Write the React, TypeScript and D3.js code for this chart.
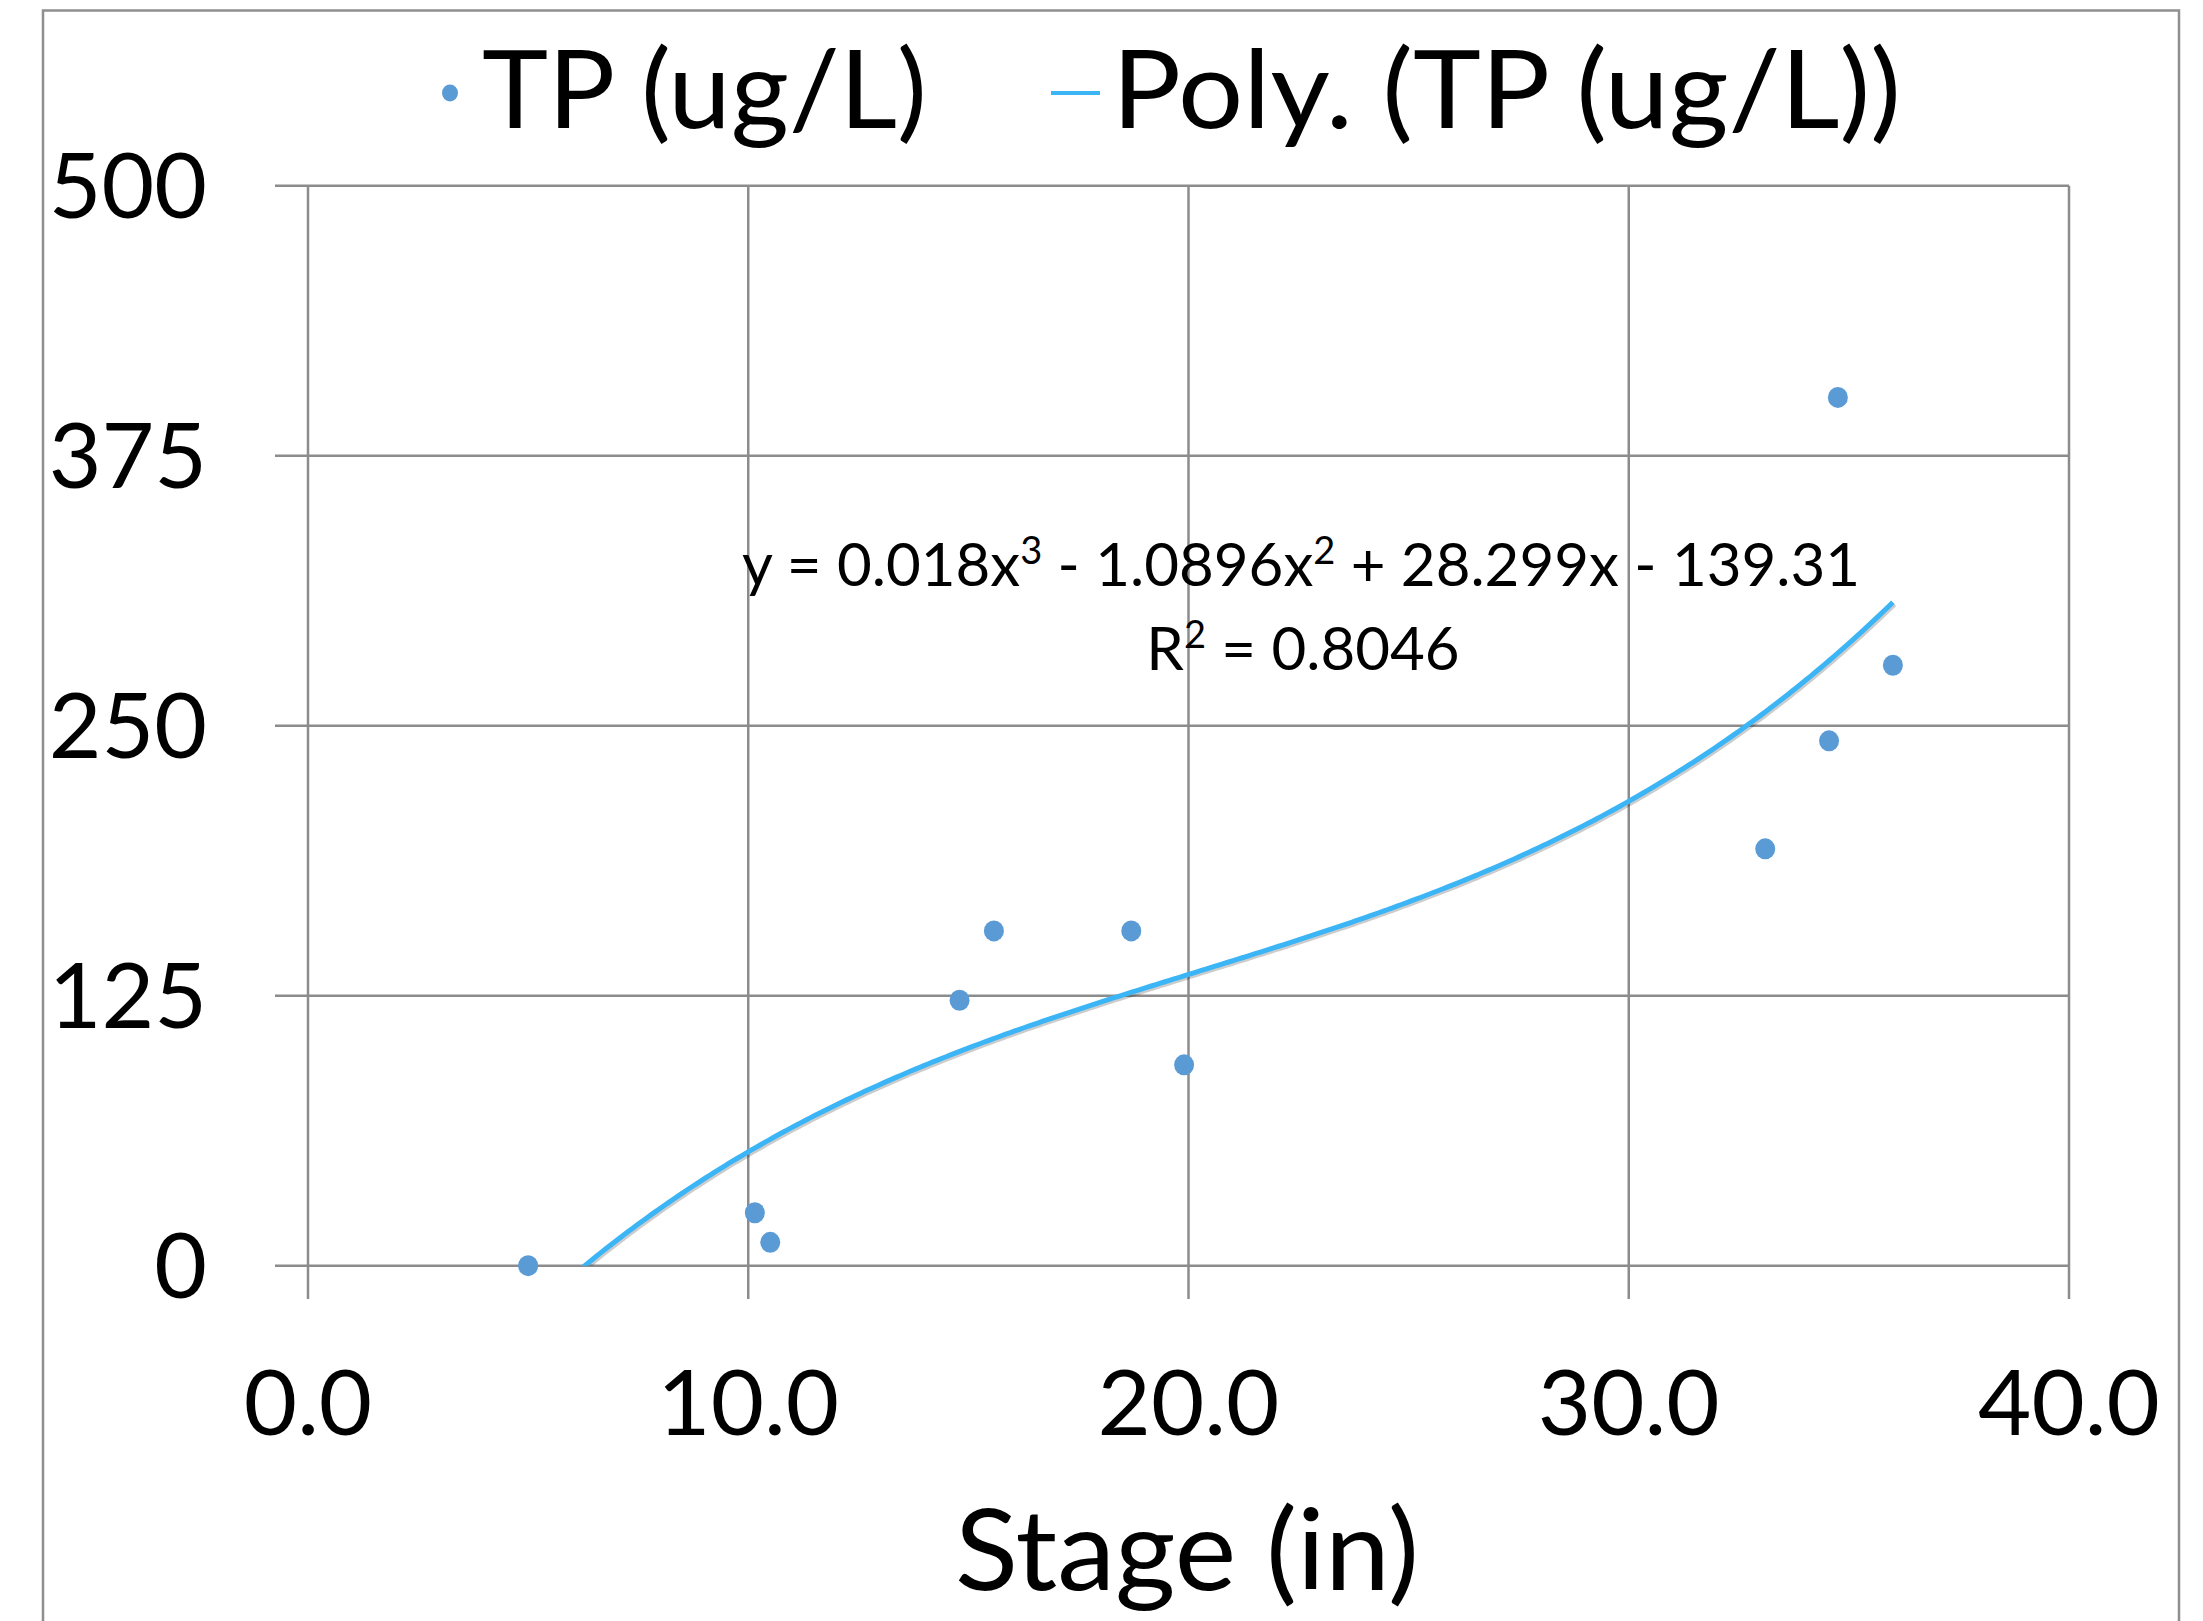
import React from "react";
import * as d3 from "d3";

const stage = [5.0, 10.15, 10.5, 14.8, 15.58, 18.7, 19.9, 33.1, 34.55, 34.75, 36.0];
const tp = [0, 24.5, 10.8, 122.9, 155, 155, 93, 193, 243, 402, 278];
const polyCoef = [-139.31, 28.299, -1.0896, 0.018];
const xTicks = [0, 10, 20, 30, 40];
const yTicks = [0, 125, 250, 375, 500];
const seriesName = "TP (ug/L)";
const trendName = "Poly. (TP (ug/L))";
const xTitle = "Stage (in)";

const W = 2203, H = 1621;
const FONT = "Lato, 'Open Sans', sans-serif";
const GRID = "#8c8c8c";
const DOT = "#5B9BD5";
const TREND = "#3BB5F5";

export default function App() {
  const x = d3.scaleLinear().domain([0, 40]).range([308, 2069]);
  const y = d3.scaleLinear().domain([0, 500]).range([1265.7, 185.7]);
  const poly = (v: number) => polyCoef.reduce((s, c, i) => s + c * Math.pow(v, i), 0);
  const lo = d3.min(stage)!, hi = d3.max(stage)!;
  const xs = d3.range(0, 301).map(i => lo + (i / 300) * (hi - lo));
  const line = d3.line<number>().x(v => x(v)).y(v => y(poly(v))).curve(d3.curveLinear);
  const path = line(xs) || "";
  const [x0, x1] = x.range();
  const [y0, y1] = y.range();

  return (
    <svg width={W} height={H} style={{ position: "absolute", left: 0, top: 0, background: "#fff" }}>
      <defs>
        <clipPath id="plot">
          <rect x={x0} y={y1} width={x1 - x0} height={y0 - y1} />
        </clipPath>
      </defs>
      <rect x={0} y={0} width={W} height={H} fill="#fff" />
      {/* outer border */}
      <path d={`M43,${H + 5} V10.5 H2179 V${H + 5}`} fill="none" stroke="#8f8f8f" strokeWidth={2.5} />

      {/* horizontal gridlines with tick extension */}
      {yTicks.map(t => (
        <line key={"h" + t} x1={275} x2={x1} y1={y(t)} y2={y(t)} stroke={GRID} strokeWidth={2.5} />
      ))}
      {/* vertical gridlines with tick extension */}
      {xTicks.map(t => (
        <line key={"v" + t} x1={x(t)} x2={x(t)} y1={y1} y2={1299} stroke={GRID} strokeWidth={2.5} />
      ))}

      {/* y labels */}
      {yTicks.map(t => (
        <text key={"yl" + t} x={207} y={y(t) + 32} textAnchor="end" fontFamily={FONT} fontSize={91} fill="#000">
          {String(t)}
        </text>
      ))}
      {/* x labels */}
      {xTicks.map(t => (
        <text key={"xl" + t} x={x(t)} y={1435} textAnchor="middle" fontFamily={FONT} fontSize={92} fill="#000">
          {t.toFixed(1)}
        </text>
      ))}
      <text x={955} y={1590} textLength={464} lengthAdjust="spacingAndGlyphs" fontFamily={FONT} fontSize={112} fill="#000">
        {xTitle}
      </text>

      {/* trendline */}
      <g clipPath="url(#plot)">
        <path d={path} fill="none" stroke="#000" strokeOpacity={0.2} strokeWidth={5} transform="translate(1.5,2)" />
        <path d={path} fill="none" stroke={TREND} strokeWidth={5} />
      </g>

      {/* points */}
      {stage.map((s, i) => (
        <ellipse key={"p" + i} cx={x(s)} cy={y(tp[i])} rx={10} ry={10.5} fill={DOT} />
      ))}

      {/* equation */}
      <text x={1301} y={586} textAnchor="middle" fontFamily={FONT} fontSize={60} fill="#000">
        y = 0.018x<tspan fontSize={38} dy={-22}>3</tspan>
        <tspan dy={22}> - 1.0896x</tspan>
        <tspan fontSize={38} dy={-22}>2</tspan>
        <tspan dy={22}> + 28.299x - 139.31</tspan>
      </text>
      <text x={1303} y={670} textAnchor="middle" fontFamily={FONT} fontSize={60} fill="#000">
        R<tspan fontSize={38} dy={-22}>2</tspan>
        <tspan dy={22}> = 0.8046</tspan>
      </text>

      {/* legend */}
      <ellipse cx={450} cy={93} rx={8} ry={8.5} fill={DOT} />
      <text x={482} y={128} textLength={445} lengthAdjust="spacingAndGlyphs" fontFamily={FONT} fontSize={108} fill="#000">{seriesName}</text>
      <line x1={1051} x2={1100} y1={93} y2={93} stroke={TREND} strokeWidth={4} />
      <text x={1112} y={128} textLength={789} lengthAdjust="spacingAndGlyphs" fontFamily={FONT} fontSize={108} fill="#000">{trendName}</text>
    </svg>
  );
}
